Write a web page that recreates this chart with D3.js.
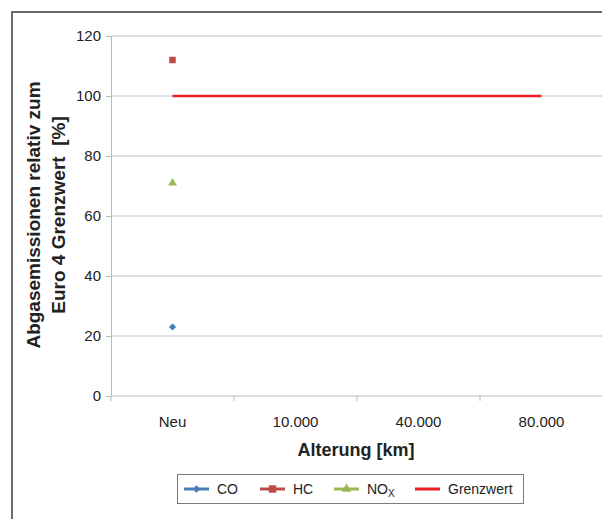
<!DOCTYPE html>
<html>
<head>
<meta charset="utf-8">
<script src="https://cdn.jsdelivr.net/npm/d3@7"></script>
<style>
  body { margin: 0; background: #fff; }
  svg text { font-family: "Liberation Sans", Arial, sans-serif; fill: #222; }
</style>
</head>
<body>
<div id="chart"></div>
<script>
// categories on the x axis
const categories = ['Neu', '10.000', '40.000', '80.000'];
// measured points (only the "Neu" state has values)
const coValues = [23, null, null, null];
const hcValues = [112, null, null, null];
const noxValues = [71, null, null, null];
const grenzwert = [100, 100, 100, 100];
const yTicks = [0, 20, 40, 60, 80, 100, 120];

const width = 602, height = 519;
const margin = { left: 111, top: 36, right: 603, bottom: 396 };

const svg = d3.select('#chart')
    .append('svg')
    .attr('width', width)
    .attr('height', height);

// outer frame (runs past the right / bottom edge)
svg.append('rect')
    .attr('x', 12).attr('y', 12)
    .attr('width', 700).attr('height', 700)
    .attr('fill', 'none')
    .attr('stroke', '#6a6a6a')
    .attr('stroke-width', 2);

const x = d3.scaleBand()
    .domain(categories)
    .range([margin.left, margin.right]);

const y = d3.scaleLinear()
    .domain([0, 120])
    .range([margin.bottom, margin.top]);

// gridlines
svg.append('g')
    .selectAll('line')
    .data(yTicks.filter(d => d > 0))
    .enter()
    .append('line')
    .attr('x1', margin.left).attr('x2', width)
    .attr('y1', d => y(d)).attr('y2', d => y(d))
    .attr('stroke', '#c4c4c4')
    .attr('stroke-width', 1);

// y axis
const yAxis = svg.append('g')
    .attr('transform', `translate(${margin.left},0)`)
    .call(d3.axisLeft(y).tickValues(yTicks).tickSize(5).tickPadding(5));
yAxis.select('.domain').attr('stroke', '#b8b8b8');
yAxis.selectAll('.tick line').attr('stroke', '#b8b8b8');
yAxis.selectAll('text')
    .style('font-size', '15px')
    .attr('fill', '#222');

// x axis: ticks between categories
const xAxis = svg.append('g')
    .attr('transform', `translate(0,${margin.bottom})`);
xAxis.append('line')
    .attr('x1', margin.left).attr('x2', width)
    .attr('stroke', '#b8b8b8');
xAxis.selectAll('line.tick')
    .data(categories)
    .enter()
    .append('line')
    .attr('class', 'tick')
    .attr('x1', d => x(d)).attr('x2', d => x(d))
    .attr('y1', 0).attr('y2', 5)
    .attr('stroke', '#b8b8b8');
xAxis.selectAll('text')
    .data(categories)
    .enter()
    .append('text')
    .attr('x', d => x(d) + x.bandwidth() / 2)
    .attr('y', 31)
    .attr('text-anchor', 'middle')
    .style('font-size', '15px')
    .text(d => d);

// axis titles
svg.append('text')
    .attr('x', 356).attr('y', 456)
    .attr('text-anchor', 'middle')
    .style('font-size', '18px')
    .style('font-weight', 'bold')
    .text('Alterung [km]');

const yTitle = svg.append('text')
    .attr('transform', 'translate(0,215) rotate(-90)')
    .attr('text-anchor', 'middle')
    .style('font-size', '19px')
    .style('font-weight', 'bold')
    .style('white-space', 'pre');
yTitle.append('tspan').attr('x', 0).attr('y', 40).text('Abgasemissionen relativ zum');
yTitle.append('tspan').attr('x', 0).attr('y', 65).text('Euro 4 Grenzwert  [%]');

const cx = i => x(categories[i]) + x.bandwidth() / 2;

// Grenzwert line
const line = d3.line()
    .x((d, i) => cx(i))
    .y(d => y(d));
svg.append('path')
    .datum(grenzwert)
    .attr('d', line)
    .attr('fill', 'none')
    .attr('stroke', '#ee1d25')
    .attr('stroke-width', 2.5);

// diamond drawn as a square turned by 45 degrees
const series = [
    { name: 'CO', values: coValues, color: '#4a7ebb', symbol: d3.symbolSquare, size: 26, rot: 45 },
    { name: 'HC', values: hcValues, color: '#be4b48', symbol: d3.symbolSquare, size: 42, rot: 0 },
    { name: 'NOx', values: noxValues, color: '#98b954', symbol: d3.symbolTriangle, size: 34, rot: 0 }
];

series.forEach(s => {
    svg.append('g')
        .selectAll('path')
        .data(s.values.map((v, i) => ({ v, i })).filter(d => d.v != null))
        .enter()
        .append('path')
        .attr('d', d3.symbol().type(s.symbol).size(s.size))
        .attr('transform', d => `translate(${cx(d.i)},${y(d.v)}) rotate(${s.rot})`)
        .attr('fill', s.color);
});

// legend
const legend = svg.append('g');
legend.append('rect')
    .attr('x', 177.5).attr('y', 474.5)
    .attr('width', 346).attr('height', 29)
    .attr('fill', '#fff')
    .attr('stroke', '#7a7a7a')
    .attr('stroke-width', 1);

const legendItems = [
    { label: 'CO', color: '#4a7ebb', symbol: d3.symbolSquare, size: 30, rot: 45, x: 184 },
    { label: 'HC', color: '#be4b48', symbol: d3.symbolSquare, size: 56, rot: 0, x: 260 },
    { label: 'NO', sub: 'X', color: '#98b954', symbol: d3.symbolTriangle, size: 40, rot: 0, x: 334 },
    { label: 'Grenzwert', color: '#ee1d25', symbol: null, x: 415 }
];
const ly = 489;
legendItems.forEach(it => {
    legend.append('line')
        .attr('x1', it.x).attr('x2', it.x + 25)
        .attr('y1', ly).attr('y2', ly)
        .attr('stroke', it.color)
        .attr('stroke-width', 3);
    if (it.symbol) {
        legend.append('path')
            .attr('d', d3.symbol().type(it.symbol).size(it.size))
            .attr('transform', `translate(${it.x + 12.5},${ly}) rotate(${it.rot})`)
            .attr('fill', it.color);
    }
    const t = legend.append('text')
        .attr('x', it.x + 33).attr('y', ly + 5)
        .style('font-size', '14px')
        .text(it.label);
    if (it.sub) {
        t.append('tspan')
            .attr('dy', 3)
            .style('font-size', '10px')
            .text(it.sub);
    }
});
</script>
</body>
</html>
